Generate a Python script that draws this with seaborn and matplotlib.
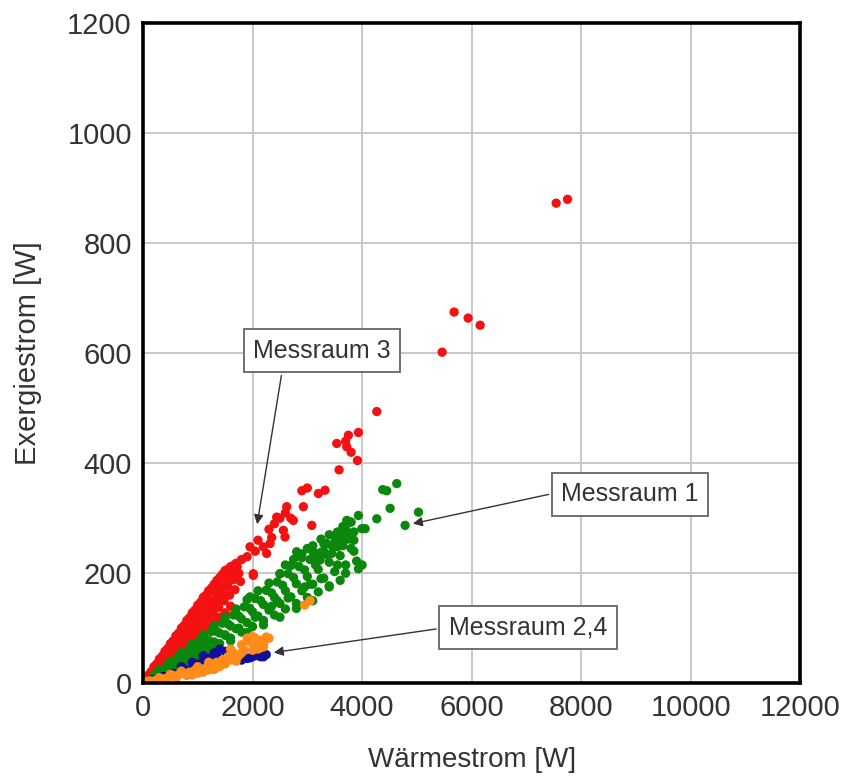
import pandas as pd
import seaborn as sns
import matplotlib.pyplot as plt

# Messraum 3 (red)
m3_x = [100, 200, 300, 400, 500, 600, 700, 800, 900, 1000, 1100, 1200, 1300, 1400, 1500, 1600, 1700,
        150, 250, 350, 450, 550, 650, 750, 850, 950, 1050, 1150, 1250, 1350, 1450, 1550, 1650, 1750,
        200, 300, 400, 500, 600, 700, 800, 900, 1000, 1100, 1200, 1300, 1400, 1500, 1600,
        50, 150, 250, 350, 450, 550, 650, 750, 850, 950, 1050, 1150, 1250, 1350, 1450, 1550, 1650,
        120, 220, 320, 420, 520, 620, 720, 820, 920, 1020, 1120, 1220, 1320, 1420, 1520, 1620, 1720,
        180, 280, 380, 480, 580, 680, 780, 880, 980, 1080, 1180, 1280, 1380, 1480, 1580, 1680, 1780,
        30, 60, 1800, 1900, 1954, 2014, 2050, 2100, 2197, 2258, 2300, 2350, 2400, 2441, 2500, 2563,
        2600, 2624, 2700, 2745, 2928, 2900, 3000, 3082, 3202, 3324, 3580, 3537, 3700, 3750, 3800,
        3915, 3933, 4268, 5461, 5680, 5936, 6155, 7543, 7750, 2320, 2593, 2014, 3720]
m3_y = [15, 30, 44, 58, 72, 86, 100, 114, 128, 142, 156, 168, 180, 192, 205, 212, 218,
        16, 28, 40, 52, 63, 75, 86, 97, 108, 120, 131, 142, 152, 164, 176, 188, 200,
        16, 25, 34, 42, 51, 59, 68, 76, 85, 93, 102, 112, 120, 128, 140,
        7, 21, 35, 49, 63, 77, 91, 105, 119, 133, 147, 160, 173, 187, 198, 207, 214,
        15, 27, 40, 52, 65, 77, 90, 102, 115, 127, 140, 152, 165, 177, 190, 200, 212,
        18, 28, 38, 48, 58, 68, 78, 88, 98, 108, 118, 128, 138, 150, 160, 170, 185,
        3, 6, 225, 230, 248, 199, 240, 260, 248, 236, 280, 265, 290, 302, 300, 278,
        310, 321, 300, 296, 321, 350, 355, 287, 345, 351, 388, 436, 440, 451, 420,
        405, 456, 494, 602, 675, 664, 651, 873, 880, 254, 266, 196, 430]

# Messraum 1 (green)
m1_x = [300, 500, 700, 900, 1100, 1300, 1500, 1700, 1900, 2100, 2300, 2500, 2700, 2900, 3100, 3300, 3500, 3700,
        200, 400, 600, 800, 1000, 1200, 1400, 1600, 1800, 2000, 2200, 2400, 2600, 2800, 3000, 3200, 3400, 3600, 3800,
        400, 700, 1000, 1300, 1600, 1900, 2200, 2500, 2800, 3100, 3400, 3700, 3900,
        250, 450, 650, 850, 1050, 1250, 1450, 1650, 1850, 2050, 2250, 2450, 2650, 2850, 3050, 3250, 3450, 3650,
        300, 500, 700, 900, 1100, 1300, 1500, 1700, 1900, 2100, 2300, 2500, 2700, 2900, 3100, 3300, 3500, 3700,
        350, 550, 750, 950, 1150, 1350, 1550, 1750, 1950, 2150, 2350, 2550, 2750, 2950, 3150, 3350, 3550, 3750,
        600, 800, 1000, 1200, 1400, 1600, 1800, 2000, 2200, 2400, 2600, 2800, 3000, 3200, 3400, 3600,
        500, 900, 1150, 1500, 1750, 2050, 2350, 2450, 2650, 2950, 3050, 3250, 3550, 3850,
        2600, 2750, 2900, 3000, 3100, 3250, 3400, 3550, 3650, 3800, 3300, 3500, 3700, 3850,
        1954, 2258, 2502, 2805, 3150, 3172, 3233, 3355, 3446, 3598, 3650, 3720, 3780, 3850, 3933, 3994,
        3933, 4000, 4055, 4268, 4377, 4450, 4511, 4633, 4785, 5029]
m1_y = [25, 40, 56, 72, 88, 104, 120, 135, 152, 168, 182, 199, 214, 228, 240, 254, 266, 280,
        13, 26, 39, 52, 65, 78, 91, 104, 117, 130, 143, 156, 168, 181, 194, 207, 220, 232, 245,
        19, 33, 48, 62, 77, 92, 106, 120, 136, 150, 175, 200, 222,
        19, 34, 49, 64, 79, 94, 109, 124, 139, 154, 169, 184, 199, 212, 225, 238, 250, 262,
        17, 29, 41, 52, 64, 75, 87, 99, 110, 122, 133, 145, 157, 168, 180, 191, 203, 215,
        24, 38, 52, 66, 80, 94, 108, 122, 136, 150, 164, 178, 192, 206, 220, 234, 248, 262,
        30, 40, 51, 61, 72, 82, 93, 103, 114, 124, 135, 145, 156, 166, 177, 187,
        30, 55, 70, 88, 100, 120, 140, 150, 155, 175, 180, 190, 215, 240,
        215, 225, 235, 245, 250, 262, 270, 275, 285, 293, 240, 255, 270, 275,
        157, 169, 199, 239, 215, 230, 224, 254, 236, 266, 250, 296, 293, 260, 305, 281,
        208, 215, 281, 299, 352, 350, 318, 363, 287, 311]

# Messraum 2 (blue)
m2_x = [100, 200, 300, 400, 500, 600, 700, 800, 900, 1000, 1100, 1200, 1300, 1400, 1500, 1600,
        1700, 1800, 1900, 2000, 2100, 2200, 2250, 1000, 1200, 1400, 700, 900, 1100,
        150, 350, 550, 750, 950, 1150, 1350, 1550, 1750, 1950, 2150]
m2_y = [3, 6, 8, 12, 14, 17, 20, 22, 28, 35, 40, 45, 55, 62, 58, 45,
        50, 42, 45, 48, 50, 48, 52, 22, 30, 38, 30, 38, 50,
        6, 12, 18, 26, 32, 40, 50, 55, 48, 46, 48]

# Messraum 4 (orange)
m4_x = [50, 150, 250, 350, 450, 550, 650, 750, 850, 950, 1050, 1150, 1250, 1350, 1450, 1550,
        1650, 1750, 1850, 1950, 2050, 2150, 2250, 2300, 1900, 2000, 1700, 1500, 1300, 1100,
        900, 1600, 1800, 2100, 2200, 600, 400, 1200, 1000, 2950, 3050,
        100, 300, 500, 700, 800, 1000, 1200, 1400, 1600, 1800, 2000, 2200, 1950, 2050, 2150, 2250]
m4_y = [2, 4, 6, 8, 10, 14, 15, 18, 20, 24, 26, 28, 32, 38, 42, 48,
        55, 50, 60, 75, 70, 78, 80, 82, 82, 85, 40, 35, 25, 20,
        15, 62, 70, 62, 70, 8, 5, 38, 30, 142, 150,
        4, 10, 16, 22, 14, 18, 24, 30, 42, 55, 60, 66, 80, 82, 76, 84]

colors = {"Messraum 3": "#f31111", "Messraum 1": "#0b880b",
          "Messraum 2": "#10109a", "Messraum 4": "#ff8c1a"}

df = pd.concat([
    pd.DataFrame({"x": m3_x, "y": m3_y, "raum": "Messraum 3"}),
    pd.DataFrame({"x": m1_x, "y": m1_y, "raum": "Messraum 1"}),
    pd.DataFrame({"x": m2_x, "y": m2_y, "raum": "Messraum 2"}),
    pd.DataFrame({"x": m4_x, "y": m4_y, "raum": "Messraum 4"}),
])

sns.set_style("whitegrid")
plt.rcParams['font.family'] = ['Liberation Sans', 'DejaVu Sans']

fig = plt.figure(figsize=(8.46, 7.79), dpi=100)
ax = fig.add_axes([0.169, 0.123, 0.777, 0.847])

sns.scatterplot(data=df, x="x", y="y", hue="raum", palette=colors,
                s=45, linewidth=0, legend=False, ax=ax, zorder=3)

ax.set_xlim(0, 12000)
ax.set_ylim(0, 1200)
ax.set_xticks(range(0, 12001, 2000))
ax.set_yticks(range(0, 1201, 200))
ax.grid(True, color="#c4c4c4", linewidth=1.3)
ax.tick_params(labelsize=21, colors="#333333", length=0, pad=8)
for sp in ax.spines.values():
    sp.set_color("black")
    sp.set_linewidth(2.6)
    sp.set_zorder(5)

ax.set_xlabel("Wärmestrom [W]", fontsize=20, color="#333333", labelpad=18)
ax.set_ylabel("Exergiestrom [W]", fontsize=21, color="#333333", labelpad=18)

box = dict(boxstyle="square,pad=0.38", fc="white", ec="#707070", lw=1.4)
arrow = dict(arrowstyle="-|>", color="#333333", lw=1, mutation_scale=14)

ax.annotate("Messraum 3", xy=(2076, 284), xytext=(3269, 605), fontsize=18,
            color="#333333", ha="center", va="center", bbox=box,
            arrowprops=dict(arrow, relpos=(0.22, 0)), zorder=6)
ax.annotate("Messraum 1", xy=(4877, 289), xytext=(8895, 344), fontsize=18,
            color="#333333", ha="center", va="center", bbox=box,
            arrowprops=dict(arrow, relpos=(0, 0.6)), zorder=6)
ax.annotate("Messraum 2,4", xy=(2338, 55), xytext=(7032, 102), fontsize=18,
            color="#333333", ha="center", va="center", bbox=box,
            arrowprops=dict(arrow, relpos=(0, 0.5)), zorder=6)

plt.savefig("out.png", dpi=100)
